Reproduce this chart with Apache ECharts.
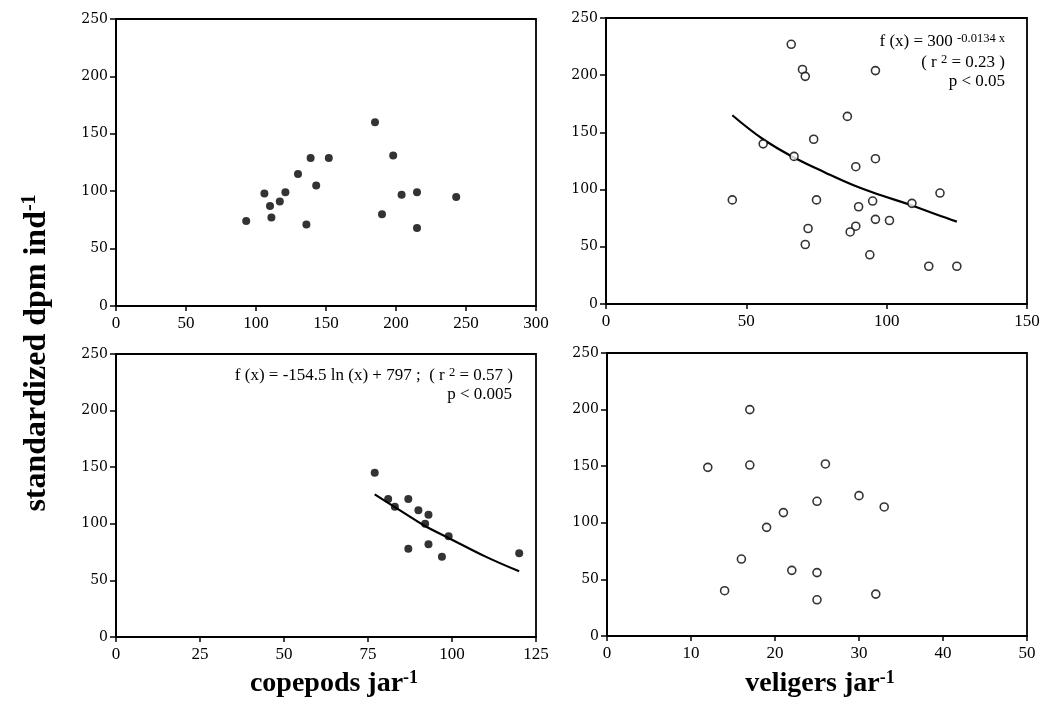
<!DOCTYPE html>
<html>
<head>
<meta charset="utf-8">
<script src="https://cdn.jsdelivr.net/npm/echarts@6/dist/echarts.min.js"></script>
<style>
html,body{margin:0;padding:0;background:#fff;}
#chart{width:1044px;height:712px;}
</style>
</head>
<body>
<div id="chart"></div>
<script>
// ---- data ----
// top-left: copepods (filled)
const copA_x = [93,106,110,111,117,121,130,136,139,143,152,185,190,198,204,215,215,243];
const copA_y = [74,98,87,77,91,99,115,71,129,105,129,160,80,131,97,99,68,95];
// top-right: veligers (open) + fitted curve
const velA_x = [66,70,71,96,86,56,74,67,96,89,45,75,95,90,109,119,96,101,72,89,87,71,94,115,125];
const velA_y = [227,205,199,204,164,140,144,129,127,120,91,91,90,85,88,97,74,73,66,68,63,52,43,33,33];
const velFit_x = [45,56,67,78,88,98,108,118,125];
const velFit_y = [165,144,128,115,104,95,87,78,72];
// bottom-left: copepods (filled) + fitted curve
const copB_x = [77,81,83,87,90,93,92,99,87,93,97,120];
const copB_y = [145,122,115,122,112,108,100,89,78,82,71,74];
const copFit_x = [77,85,92,100,110,120];
const copFit_y = [126,111,98,86,71,58];
// bottom-right: veligers (open)
const velB_x = [12,17,17,26,30,33,25,21,19,16,14,22,25,25,32];
const velB_y = [149,200,151,152,124,114,119,109,96,68,40,58,56,32,37];

// axis ranges / ticks
const yRange = {min:0, max:250, interval:50};
const xRanges = [
  {min:0, max:300, interval:50},
  {min:0, max:150, interval:50},
  {min:0, max:125, interval:25},
  {min:0, max:50, interval:10}
];
const xTitles = ['copepods jar', 'veligers jar'];
const yTitle = 'standardized dpm ind';
const annTR = ['f (x) = 300 ', '-0.0134 x', '( r ', '2', ' = 0.23 )', 'p < 0.05'];
const annBL = ['f (x) = -154.5 ln (x) + 797 ;  ( r ', '2', ' = 0.57 )', 'p < 0.005'];

const zip = (xs, ys) => xs.map((x, i) => [x, ys[i]]);

const SERIF = '"Liberation Serif", "Times New Roman", serif';
const WIDE = 'DejaVu Serif';

const grids = [
  {left:116, top:19, width:420, height:287},
  {left:606, top:18, width:421, height:286},
  {left:116, top:354, width:420, height:283},
  {left:607, top:353, width:420, height:283}
];

const xAxes = xRanges.map((r, i) => ({
  type:'value', gridIndex:i, min:r.min, max:r.max, interval:r.interval,
  axisLine:{show:true, onZero:false, lineStyle:{color:'#000', width:2}},
  axisTick:{show:true, inside:false, length:5, lineStyle:{color:'#000', width:1.5}},
  axisLabel:{color:'#000', fontFamily:SERIF, fontSize:17, margin:9},
  splitLine:{show:false}
}));
const yAxes = grids.map((g, i) => ({
  type:'value', gridIndex:i, min:yRange.min, max:yRange.max, interval:yRange.interval,
  axisLine:{show:true, onZero:false, lineStyle:{color:'#000', width:2}},
  axisTick:{show:true, inside:false, length:6, lineStyle:{color:'#000', width:1.5}},
  axisLabel:{color:'#000', fontFamily:WIDE, fontSize:14, margin:8},
  splitLine:{show:false}
}));

const filled = {color:'#000'};
const open = {color:'#fff', borderColor:'#000', borderWidth:1.6};

const series = [
  {type:'scatter', xAxisIndex:0, yAxisIndex:0, data:zip(copA_x, copA_y), symbolSize:8, itemStyle:filled, silent:true},
  {type:'line', xAxisIndex:1, yAxisIndex:1, data:zip(velFit_x, velFit_y), smooth:0.4, showSymbol:false, lineStyle:{color:'#000', width:2.2}, z:1, silent:true},
  {type:'scatter', xAxisIndex:1, yAxisIndex:1, data:zip(velA_x, velA_y), symbolSize:8, itemStyle:open, z:3, silent:true},
  {type:'line', xAxisIndex:2, yAxisIndex:2, data:zip(copFit_x, copFit_y), smooth:0.4, showSymbol:false, lineStyle:{color:'#000', width:2.2}, z:1, silent:true},
  {type:'scatter', xAxisIndex:2, yAxisIndex:2, data:zip(copB_x, copB_y), symbolSize:8, itemStyle:filled, z:3, silent:true},
  {type:'scatter', xAxisIndex:3, yAxisIndex:3, data:zip(velB_x, velB_y), symbolSize:8, itemStyle:open, silent:true}
];

const richX = {
  b:{fontFamily:SERIF, fontSize:28, fontWeight:'bold', color:'#000', lineHeight:30},
  s:{fontFamily:SERIF, fontSize:18, fontWeight:'bold', color:'#000', verticalAlign:'top', lineHeight:22}
};
const richY = {
  b:{fontFamily:SERIF, fontSize:32, fontWeight:'bold', color:'#000', lineHeight:34},
  s:{fontFamily:SERIF, fontSize:20, fontWeight:'bold', color:'#000', verticalAlign:'top', lineHeight:24}
};
const richAnn = {
  n:{fontFamily:SERIF, fontSize:17, color:'#000', lineHeight:20},
  s:{fontFamily:SERIF, fontSize:12.5, color:'#000', verticalAlign:'top', lineHeight:14}
};

const graphic = [
  {type:'text', x:334, y:684, style:{text:'{b|' + xTitles[0] + '}{s|-1}', rich:richX, align:'center', verticalAlign:'middle'}},
  {type:'text', x:820, y:684, style:{text:'{b|' + xTitles[1] + '}{s|-1}', rich:richX, align:'center', verticalAlign:'middle'}},
  {type:'text', x:37, y:353, rotation:Math.PI/2, style:{text:'{b|' + yTitle + '}{s|-1}', rich:richY, align:'center', verticalAlign:'middle'}},
  {type:'text', x:1005, y:42, style:{text:'{n|' + annTR[0] + '}{s|' + annTR[1] + '}', rich:richAnn, align:'right', verticalAlign:'middle'}},
  {type:'text', x:1005, y:63, style:{text:'{n|' + annTR[2] + '}{s|' + annTR[3] + '}{n|' + annTR[4] + '}', rich:richAnn, align:'right', verticalAlign:'middle'}},
  {type:'text', x:1005, y:82, style:{text:'{n|' + annTR[5] + '}', rich:richAnn, align:'right', verticalAlign:'middle'}},
  {type:'text', x:513, y:376, style:{text:'{n|' + annBL[0] + '}{s|' + annBL[1] + '}{n|' + annBL[2] + '}', rich:richAnn, align:'right', verticalAlign:'middle'}},
  {type:'text', x:512, y:395, style:{text:'{n|' + annBL[3] + '}', rich:richAnn, align:'right', verticalAlign:'middle'}}
];

const chart = echarts.init(document.getElementById('chart'), null, {renderer:'canvas'});
chart.setOption({
  backgroundColor:'#fff',
  animation:false,
  grid:grids.map(g => Object.assign({show:true, borderColor:'#000', borderWidth:1.8, backgroundColor:'transparent'}, g)),
  xAxis:xAxes,
  yAxis:yAxes,
  series:series,
  graphic:graphic
});
</script>
</body>
</html>
